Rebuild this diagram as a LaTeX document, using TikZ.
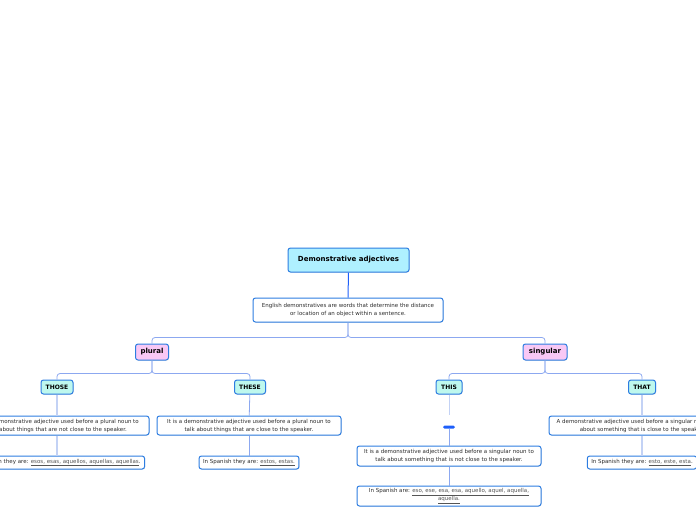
\documentclass[tikz,border=0pt]{standalone}
\usepackage{fontspec}
\setmainfont{DejaVu Sans}
\usetikzlibrary{shadows,positioning}
\definecolor{mapline}{RGB}{45,125,225}
\definecolor{mainlink}{RGB}{30,95,250}
\definecolor{sublink}{RGB}{140,168,240}
\definecolor{fadelink}{RGB}{195,210,245}
\definecolor{titlefill}{RGB}{175,240,255}
\definecolor{groupfill}{RGB}{248,200,245}
\definecolor{wordfill}{RGB}{190,248,238}
\definecolor{bodytext}{RGB}{45,45,45}
\definecolor{formtext}{RGB}{85,85,85}
\newcommand{\esform}[1]{\textcolor{formtext}{\underline{#1}}}
\tikzstyle{mapbox}=[draw=mapline,line width=1pt,rounded corners=2.5pt,fill=white,
  inner sep=1pt,align=center,text=bodytext,
  drop shadow={shadow xshift=0.6pt,shadow yshift=-0.6pt,opacity=0.25}]
\tikzstyle{title}=[mapbox,fill=titlefill,text=black,font=\fontsize{7}{8}\bfseries,
  minimum width=121pt,minimum height=24pt]
\tikzstyle{group}=[mapbox,fill=groupfill,text=black,font=\fontsize{7}{8}\bfseries,
  minimum height=16pt]
\tikzstyle{word}=[mapbox,fill=wordfill,text=black,font=\fontsize{6}{7}\bfseries,
  minimum height=14pt]
\tikzstyle{note}=[mapbox,font=\fontsize{5.5}{8}\selectfont,minimum width=184pt,minimum height=19pt]
\tikzstyle{spanish}=[mapbox,font=\fontsize{5.5}{8}\selectfont,minimum height=13pt,inner xsep=4pt]
\tikzstyle{link}=[draw=sublink,line width=0.8pt,rounded corners=3pt]

\begin{document}
\begin{tikzpicture}[x=1pt,y=-1pt]
\useasboundingbox (0,0) rectangle (696,520);
% root and its explanation
\node [title] (root) at (348.5,260) {Demonstrative adjectives};
\node [note,minimum width=190pt,minimum height=24pt] (intro) at (348,310)
  {English demonstratives are words that determine the distance\\or location of an object within a sentence.};
% number groups
\node [group,minimum width=33pt] (plural) at (152,352) {plural};
\node [group,minimum width=44pt] (singular) at (545,352) {singular};
% the four words
\node [word,minimum width=32pt] (those) at (57,387) {THOSE};
\node [word,minimum width=31pt] (these) at (250,387) {THESE};
\node [word,minimum width=26pt] (this) at (449,387) {THIS};
\node [word,minimum width=27pt] (that) at (642,387) {THAT};
% explanations
\node [note] (thosenote) at (57,425.5)
  {It is a demonstrative adjective used before a plural noun to\\talk about things that are not close to the speaker.};
\node [note] (thesenote) at (249,425.5)
  {It is a demonstrative adjective used before a plural noun to\\talk about things that are close to the speaker.};
\node [fill=mainlink,rounded corners=1.5pt,minimum width=12pt,minimum height=3pt,inner sep=0pt] (thismark) at (449,427) {};
\node [note,minimum height=20pt] (thisnote) at (449,456)
  {It is a demonstrative adjective used before a singular noun to\\talk about something that is not close to the speaker.};
\node [note,minimum width=186pt] (thatnote) at (642,425.5)
  {A demonstrative adjective used before a singular noun to talk\\about something that is close to the speaker.};
% spanish forms
\node [spanish] (thosees) at (57,462.5)
  {In Spanish they are: \esform{esos, esas, aquellos, aquellas, aquellas}.};
\node [spanish] (thesees) at (249,462.5)
  {In Spanish they are: \esform{estos, estas.}};
\node [note,minimum height=20pt] (thises) at (449,496)
  {In Spanish are: \esform{eso, ese, esa, esa, aquello, aquel, aquella,}\\\esform{aquella.}};
\node [spanish] (thates) at (642,462.5)
  {In Spanish they are: \esform{esto, este, esta}.};
% connectors
\draw [draw=mainlink,line width=1pt] (root) -- (intro);
\draw [link] (intro.south) -- ++(0,15) -| (plural.north);
\draw [link] (intro.south) -- ++(0,15) -| (singular.north);
\draw [link] (plural.south) -- ++(0,13) -| (those.north);
\draw [link] (plural.south) -- ++(0,13) -| (these.north);
\draw [link] (singular.south) -- ++(0,13) -| (this.north);
\draw [link] (singular.south) -- ++(0,13) -| (that.north);
\draw [link,draw=fadelink,line width=1.2pt] (those) -- (thosenote);
\draw [link] (these) -- (thesenote);
\draw [link,draw=fadelink] (this.south) -- ++(0,20);
\draw [link] (thismark) -- (thisnote);
\draw [link,draw=fadelink,line width=1.2pt] (that) -- (thatnote);
\draw [link,draw=fadelink,line width=1.2pt] (thosenote) -- (thosees);
\draw [link] (thesenote) -- (thesees);
\draw [link] (thisnote) -- (thises);
\draw [link,draw=fadelink,line width=1.2pt] (thatnote) -- (thates);
\end{tikzpicture}
\end{document}
